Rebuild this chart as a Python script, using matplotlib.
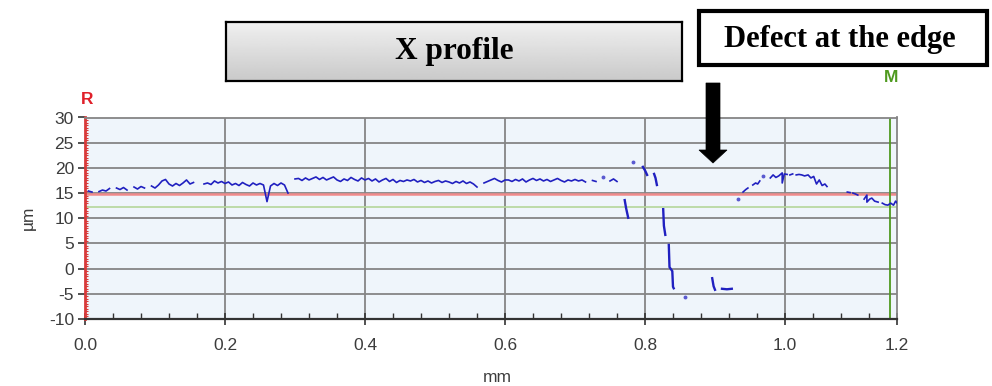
import numpy as np
import matplotlib
matplotlib.use("Agg")
import matplotlib.pyplot as plt
from matplotlib.patches import Rectangle, Polygon

plt.rcParams["axes.unicode_minus"] = False
plt.rcParams["font.family"] = ["Liberation Sans", "DejaVu Sans"]

nan = np.nan

# ---- profile data (x in mm, height in µm) ----
# flat part sampled every 5 µm along x, starting at 0.005 mm
flat_x0 = 0.005
flat_dx = 0.005
flat_y = [
    15.4, 15.2, nan, 15.3, 15.6, 15.4, 15.9, nan, 16.0, 15.7,
    16.1, 15.6, nan, 16.2, 15.8, 16.3, 16.0, nan, 16.4, 16.0,
    16.6, 17.4, 17.7, 16.8, 16.4, 16.9, 16.5, 17.0, 17.6, 16.8,
    17.1, nan, nan, 16.8, 17.0, 16.7, 17.4, 17.0, 17.3, 16.9,
    17.2, 16.6, 16.9, 16.5, 17.1, 16.7, 16.4, 17.0, 16.6, 16.9,
    16.6, 13.3, 16.4, 16.9, 16.5, 17.0, 16.6, 15.0, nan, 17.8,
    17.9, 17.5, 18.0, 17.6, 17.9, 18.2, 17.7, 18.1, 17.6, 17.9,
    18.2, 17.6, 17.3, 17.8, 17.5, 18.1, 17.7, 17.4, 18.0, 17.6,
    17.9, 17.4, 17.8, 17.2, 17.6, 17.9, 17.3, 17.7, 17.1, 17.5,
    17.3, 17.6, 17.4, 17.7, 17.2, 17.5, 17.1, 17.4, 17.0, 17.3,
    17.5, 17.1, 17.4, 17.2, 16.9, 17.3, 17.0, 17.4, 16.9, 17.2,
    16.8, 16.2, nan, 17.0, 17.3, 17.6, 17.9, 17.5, 17.2, 17.6,
    17.6, 17.3, 17.7, 17.4, 17.8, 17.2, 17.6, 17.9, 17.5, 17.8,
    17.4, 17.7, 17.3, 17.6, 17.9, 17.5, 17.2, 17.6, 17.4, 17.7,
    17.4, 17.6, 17.2, nan, 17.5, 17.3, nan, 17.6, nan, 17.4,
    17.8, 17.3, nan,
]

# broken segments across the edge defect
defect_x = [0.771, 0.773, 0.776, nan, 0.797, 0.800, 0.803, nan,
            0.813, 0.815, 0.817, nan, 0.826, 0.827, 0.829, nan,
            0.834, 0.835, 0.839, 0.840, 0.841, nan, 0.896, 0.898, 0.900, nan,
            0.910, 0.917, 0.924]
defect_y = [13.6, 12.0, 10.1, nan, 20.2, 19.5, 18.6, nan,
            18.8, 18.0, 16.6, nan, 11.8, 8.5, 6.7, nan,
            4.7, 0.3, -0.5, -3.6, -3.9, nan, -1.9, -3.5, -4.2, nan,
            -4.0, -4.1, -4.0]

# profile beyond the defect
right_x = [0.940, 0.944, 0.947, nan, 0.954, 0.958, 0.961, 0.964, nan,
           0.979, 0.983, 0.987, 0.991, 0.996, 0.996, 0.999, 1.003, nan,
           1.007, 1.011, nan, 1.016, 1.020, 1.024, 1.028, 1.033,
           1.037, 1.041, 1.045, 1.049, 1.053, 1.057, 1.060, nan,
           1.089, 1.093, nan, 1.097, 1.101, 1.104, nan,
           1.113, 1.117, 1.117, 1.121, 1.124, 1.128, 1.133, nan,
           1.139, 1.143, 1.147, 1.151, 1.155, 1.158, 1.161]
right_y = [15.2, 15.7, 16.0, nan, 16.6, 17.0, 16.8, 17.4, nan,
           18.0, 18.6, 18.1, 18.4, 19.0, 17.0, 18.8, 18.7, nan,
           18.6, 18.8, nan, 18.6, 18.7, 18.6, 18.4, 18.6,
           18.0, 18.3, 16.8, 17.6, 16.5, 16.8, 16.3, nan,
           15.2, 15.1, nan, 15.0, 14.8, 14.6, nan,
           13.8, 14.6, 13.2, 13.8, 14.0, 13.4, 13.2, nan,
           13.0, 12.7, 12.6, 13.0, 12.6, 13.4, 12.9]

# single isolated samples
dots_x = [0.740, 0.783, 0.857, 0.933, 0.969]
dots_y = [18.2, 21.2, -5.6, 13.8, 18.4]

ref_level = 14.8      # red reference line (R)
meas_level = 12.3     # green measurement line (M)
meas_pos = 1.15       # green vertical cursor

x_end = 1.16
xtick_pos = [0.0, 0.2, 0.4, 0.6, 0.8, 1.0, 1.16]
xtick_lab = ["0.0", "0.2", "0.4", "0.6", "0.8", "1.0", "1.2"]
ytick_pos = [-10, -5, 0, 5, 10, 15, 20, 25, 30]

# ---- figure ----
W, H = 992, 386
fig = plt.figure(figsize=(W / 100, H / 100), dpi=100)


def fx(px):
    return px / W


def fy(py):
    return 1 - py / H


ax = fig.add_axes([fx(85), fy(319), fx(897) - fx(85), fy(117.5) - fy(319)])
ax.set_facecolor("#eff5fb")
ax.set_xlim(0, x_end)
ax.set_ylim(-10, 30)

ax.set_xticks(xtick_pos)
ax.set_xticklabels(xtick_lab)
ax.set_xticks(np.arange(0, x_end + 1e-9, 0.04), minor=True)
ax.set_yticks(ytick_pos)
ax.set_yticks(np.arange(-10, 30.01, 0.5), minor=True)

grid_c = "#858585"
for v in xtick_pos[1:-1]:
    ax.axvline(v, color=grid_c, lw=1.3, zorder=1)
for v in ytick_pos[1:-1]:
    ax.axhline(v, color=grid_c, lw=1.3, zorder=1)

ax.axhline(ref_level, color="#f08a8a", lw=1.8, zorder=2)
ax.axhline(meas_level, color="#b5d69a", lw=1.2, zorder=2)
ax.axvline(meas_pos, color="#4f9a1f", lw=1.3, zorder=2)

flat_x = flat_x0 + flat_dx * np.arange(len(flat_y))
line_c = "#2020c0"
ax.plot(flat_x, flat_y, color=line_c, lw=1.2, zorder=3)
ax.plot(defect_x, defect_y, color=line_c, lw=1.7, zorder=3)
ax.plot(right_x, right_y, color=line_c, lw=1.2, zorder=3)
ax.plot(dots_x, dots_y, ls="none", marker="o", ms=1.8, color="#5a5ad0", zorder=3)

for s in ("top", "right"):
    ax.spines[s].set_color(grid_c)
    ax.spines[s].set_linewidth(1.3)
ax.spines["bottom"].set_color("#333333")
ax.spines["bottom"].set_linewidth(1.6)
ax.spines["left"].set_color("#d83a3a")
ax.spines["left"].set_linewidth(2.0)

ax.tick_params(axis="both", which="major", labelsize=12.5, labelcolor="#3c3c3c")
ax.tick_params(axis="x", which="major", direction="inout", length=8, width=1.2,
               color="#333333", pad=10)
ax.tick_params(axis="x", which="minor", direction="in", length=4, width=1.0,
               color="#333333")
ax.tick_params(axis="y", which="major", direction="out", length=5, width=1.2,
               color="#333333", pad=3)
ax.tick_params(axis="y", which="minor", direction="in", length=2.5, width=0.8,
               color="#d83a3a")

fig.text(fx(28), fy(218), "µm", rotation=90, ha="center", va="center",
         fontsize=12.5, color="#3c3c3c")
fig.text(fx(497), fy(377), "mm", ha="center", va="center",
         fontsize=12.5, color="#3c3c3c")

fig.text(fx(87), fy(100), "R", ha="center", va="center", fontsize=12.5,
         fontweight="bold", color="#e0202a")
fig.text(fx(891), fy(78), "M", ha="center", va="center", fontsize=12.5,
         fontweight="bold", color="#4f9a1f")

# "X profile" title box with a vertical grey gradient
bx = fig.add_axes([fx(226), fy(81), fx(682) - fx(226), fy(22) - fy(81)])
grad = np.linspace(0.94, 0.79, 64).reshape(-1, 1)
bx.imshow(grad, cmap="gray", vmin=0, vmax=1, aspect="auto",
          extent=[0, 1, 0, 1], origin="upper")
bx.set_xticks([])
bx.set_yticks([])
for s in bx.spines.values():
    s.set_color("black")
    s.set_linewidth(1.6)
bx.text(0.5, 0.5, "X profile", ha="center", va="center", fontsize=22.5,
        fontweight="bold", family=["Liberation Serif", "DejaVu Serif"],
        transform=bx.transAxes)

# "Defect at the edge" box
fig.patches.append(Rectangle((fx(699), fy(65)), fx(987) - fx(699), fy(11) - fy(65),
                             transform=fig.transFigure, facecolor="white",
                             edgecolor="black", lw=3.0, zorder=5))
fig.text(fx(840), fy(39), "Defect at the edge", ha="center", va="center",
         fontsize=22, fontweight="bold",
         family=["Liberation Serif", "DejaVu Serif"], zorder=6)

# down arrow pointing at the defect
arrow_px = [(706, 83), (720, 83), (720, 150), (727, 150), (713, 163),
            (699, 150), (706, 150)]
fig.patches.append(Polygon([(fx(a), fy(b)) for a, b in arrow_px], closed=True,
                           transform=fig.transFigure, facecolor="black",
                           edgecolor="black", lw=0.5, zorder=5))

fig.savefig("out.png", dpi=100)
